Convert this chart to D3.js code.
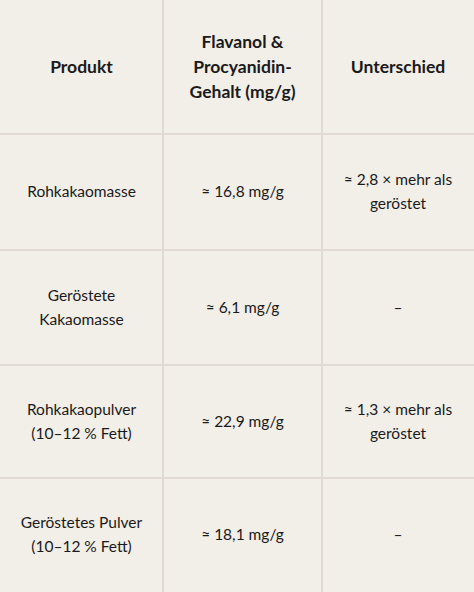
<!DOCTYPE html><html><head><meta charset="utf-8">
<script src="https://cdn.jsdelivr.net/npm/d3@7"></script>
<style>body{margin:0;background:#f2eee8}</style></head><body>
<svg id="c" width="474" height="592"></svg>
<script>
const headers=[["Produkt"],["Flavanol &","Procyanidin-","Gehalt (mg/g)"],["Unterschied"]];
const products=[["Rohkakaomasse"],["Geröstete","Kakaomasse"],["Rohkakaopulver","(10–12 % Fett)"],["Geröstetes Pulver","(10–12 % Fett)"]];
const contents=[16.8,6.1,22.9,18.1];
const diffs=[["≈ 2,8 × mehr als","geröstet"],["–"],["≈ 1,3 × mehr als","geröstet"],["–"]];
const colEdges=[0,163,322,474];
const rowEdges=[0,134,250,365,478,592];
const fmt=v=>"≈ "+String(v.toFixed(1)).replace(".",",")+" mg/g";
const svg=d3.select("#c");
svg.append("rect").attr("width",474).attr("height",592).attr("fill","#f2eee8");
const g=svg.append("g");
colEdges.slice(1,-1).forEach(x=>g.append("line").attr("x1",x).attr("x2",x).attr("y1",0).attr("y2",592).attr("stroke","#e0dad3").attr("stroke-width",2));
rowEdges.slice(1,-1).forEach(y=>g.append("line").attr("x1",0).attr("x2",474).attr("y1",y).attr("y2",y).attr("stroke","#e0dad3").attr("stroke-width",2));
function cell(lines,c,r,bold){
  const cx=(colEdges[c]+colEdges[c+1])/2, cy=(rowEdges[r]+rowEdges[r+1])/2;
  const lh=bold?25:24, fs=bold?17.5:15.5;
  const t=svg.append("text").attr("text-anchor","middle").attr("font-family","Lato, sans-serif")
    .attr("font-size",fs).attr("font-weight",bold?700:400).attr("fill","#1a1a1a");
  lines.forEach((l,i)=>t.append("tspan").attr("x",cx).attr("y",cy+(i-(lines.length-1)/2)*lh+fs*0.35).text(l));
}
headers.forEach((h,i)=>cell(h,i,0,true));
products.forEach((p,i)=>{cell(p,0,i+1);cell([fmt(contents[i])],1,i+1);cell(diffs[i],2,i+1);});
</script></body></html>
